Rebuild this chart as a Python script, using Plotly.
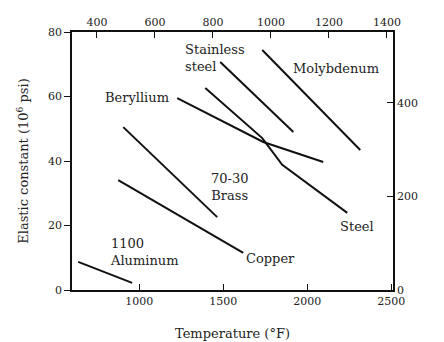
import plotly.graph_objects as go

# Temperatures in °F (bottom axis), modulus in 10^6 psi (left axis)
mo_T = [1732, 2315]
mo_E = [74.4, 43.4]
ss_T = [1482, 1917]
ss_E = [70.7, 49.0]
steel_T = [1393, 1732, 1851, 2238]
steel_E = [62.6, 47.1, 38.8, 23.9]
be_T = [1226, 1482, 1738, 2095]
be_E = [59.5, 52.7, 45.9, 39.7]
brass_T = [905, 1464]
brass_E = [50.5, 22.6]
cu_T = [875, 1619]
cu_E = [34.1, 11.5]
al_T = [637, 958]
al_E = [8.7, 2.2]

series = [
    ("Molybdenum", mo_T, mo_E),
    ("Stainless steel", ss_T, ss_E),
    ("Steel", steel_T, steel_E),
    ("Beryllium", be_T, be_E),
    ("70-30 Brass", brass_T, brass_E),
    ("Copper", cu_T, cu_E),
    ("1100 Aluminum", al_T, al_E),
]

label_text = ["Stainless<br>steel", "Molybdenum", "Beryllium", "70-30<br>Brass",
              "Steel", "Copper", "1100<br>Aluminum"]
label_T = [1262, 2173, 988, 1536, 2298, 1780, 815]
label_E = [71.9, 68.8, 59.8, 31.9, 19.8, 9.9, 11.8]
label_anchor = ["left", "center", "center", "center", "center", "center", "left"]

bottom_ticks = [1000, 1500, 2000, 2500]
top_ticks = [400, 600, 800, 1000, 1200, 1400]
left_ticks = [0, 20, 40, 60, 80]
right_ticks = [0, 200, 400]

FONT = "DejaVu Serif"
INK = "#222"

fig = go.Figure()
for name, t, e in series:
    fig.add_trace(go.Scatter(x=t, y=e, mode="lines", name=name,
                             line=dict(color="#111", width=2), showlegend=False,
                             hoverinfo="skip"))
# invisible trace for secondary axes
fig.add_trace(go.Scatter(x=[None], y=[None], xaxis="x2", yaxis="y2",
                         mode="lines", showlegend=False, hoverinfo="skip"))

for txt, t, e, a in zip(label_text, label_T, label_E, label_anchor):
    fig.add_annotation(x=t, y=e, text=txt, showarrow=False, xanchor=a, align=a,
                       yanchor="middle", font=dict(family=FONT, size=13, color=INK))

fig.add_annotation(xref="paper", yref="paper", x=1.0, y=0.49, xshift=47,
                   xanchor="left", text="GPa", textangle=-90, showarrow=False,
                   font=dict(family=FONT, size=13, color=INK))

axis_common = dict(showgrid=False, zeroline=False, showline=True, linecolor="#111",
                   linewidth=1.5, ticklen=6, tickcolor="#111", tickwidth=1,
                   automargin=False,
                   tickfont=dict(family=FONT, size=11, color=INK))

# page body has an 8px default margin; compensate so the plot box lands at 72..393 x 32..290
fig.update_layout(
    width=436, height=334,
    margin=dict(l=64, r=51, t=24, b=52),
    paper_bgcolor="white", plot_bgcolor="white",
    xaxis=dict(range=[600, 2510], tickvals=bottom_ticks, ticks="inside",
               title=dict(text="Temperature (°F)", font=dict(family=FONT, size=13, color=INK),
                          standoff=22),
               **axis_common),
    yaxis=dict(range=[0, 80], tickvals=left_ticks, ticks="outside",
               title=dict(text="Elastic constant (10<sup>6</sup> psi)",
                          font=dict(family=FONT, size=13, color=INK), standoff=16),
               **axis_common),
    xaxis2=dict(range=[314, 1421], tickvals=top_ticks, ticks="inside",
                overlaying="x", side="top", anchor="y", **axis_common),
    yaxis2=dict(range=[0, 551.6], tickvals=right_ticks, ticks="inside",
                overlaying="y", side="right", anchor="x", **axis_common),
)

fig.write_html("out.html")
